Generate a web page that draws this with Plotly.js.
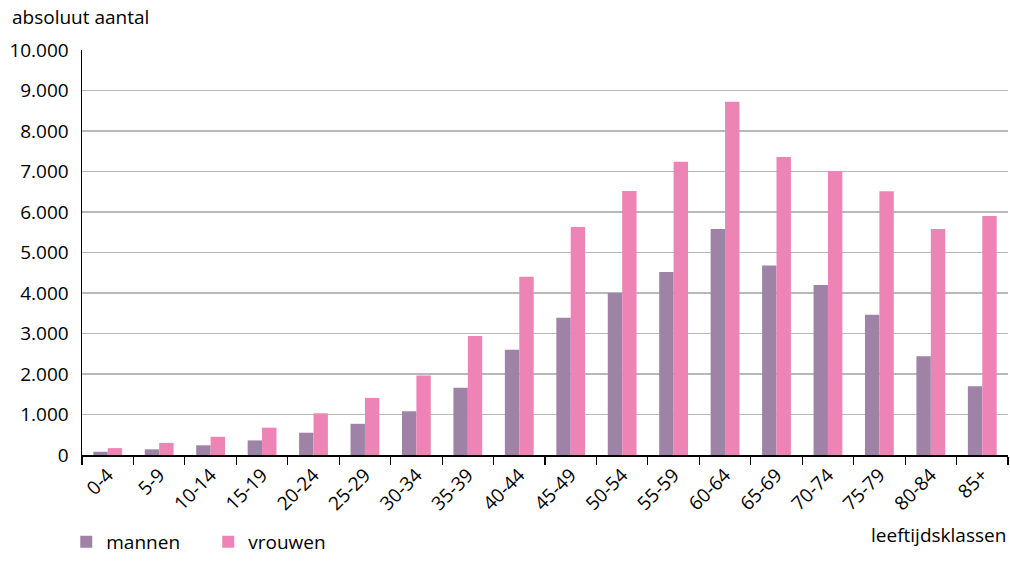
<!DOCTYPE html>
<html>
<head>
<meta charset="utf-8">
<script src="https://cdn.plot.ly/plotly-3.0.1.min.js"></script>
<style>
html,body{margin:0;padding:0;background:#fff;}
#chart{width:1010px;height:561px;}
</style>
</head>
<body>
<div id="chart"></div>
<script>
const categories = ["0-4","5-9","10-14","15-19","20-24","25-29","30-34","35-39","40-44","45-49","50-54","55-59","60-64","65-69","70-74","75-79","80-84","85+"];
const mannen = [80,140,240,360,550,770,1080,1660,2600,3390,4000,4520,5580,4680,4200,3460,2440,1700];
const vrouwen = [170,300,450,675,1030,1410,1960,2940,4400,5630,6520,7240,8720,7360,7010,6510,5580,5900];
const yTicks = [0,1000,2000,3000,4000,5000,6000,7000,8000,9000,10000];

const FONT = "Open Sans, Noto Sans, sans-serif";
const FS = 19;

const traces = [
  {type:"bar", name:"mannen", x:categories, y:mannen, marker:{color:"#9e83a6"}},
  {type:"bar", name:"vrouwen", x:categories, y:vrouwen, marker:{color:"#ee84b5"}}
];

const layout = {
  width:1010, height:561,
  margin:{l:82, r:2, t:50, b:106},
  paper_bgcolor:"#fff", plot_bgcolor:"#fff",
  separators:",.",
  font:{family:FONT, size:FS, color:"#000"},
  barmode:"group", bargap:0.44, bargroupgap:0,
  showlegend:true,
  legend:{orientation:"h", x:-0.017, xanchor:"left", yref:"container", y:-0.01, yanchor:"bottom",
          entrywidth:97, entrywidthmode:"pixels", itemwidth:30, font:{family:FONT,size:FS}, traceorder:"normal"},
  xaxis:{type:"category", automargin:false, showline:true, linecolor:"#000", linewidth:1.5,
         ticks:"outside", tickson:"boundaries", ticklen:8, tickcolor:"#000", tickwidth:1.2,
         tickangle:-45, tickfont:{family:FONT,size:FS}, showgrid:false, zeroline:false},
  yaxis:{range:[0,10000], automargin:false, tickvals:yTicks, tickformat:",d", showline:true, linecolor:"#000", linewidth:1.5,
         ticks:"", showgrid:true, gridcolor:"#b8b8b8", gridwidth:1.3, zeroline:false,
         tickfont:{family:FONT,size:FS}, ticklabelstandoff:8},
  annotations:[
    {text:"absoluut aantal", xref:"paper", yref:"paper", x:-0.078, y:1.0815, xanchor:"left", yanchor:"middle",
     showarrow:false, font:{family:FONT,size:FS}},
    {text:"leeftijdsklassen", xref:"paper", yref:"paper", x:1, y:-0.1975, xanchor:"right", yanchor:"middle",
     showarrow:false, font:{family:FONT,size:FS}}
  ]
};

Plotly.newPlot("chart", traces, layout, {displayModeBar:false, staticPlot:true});
</script>
</body>
</html>
